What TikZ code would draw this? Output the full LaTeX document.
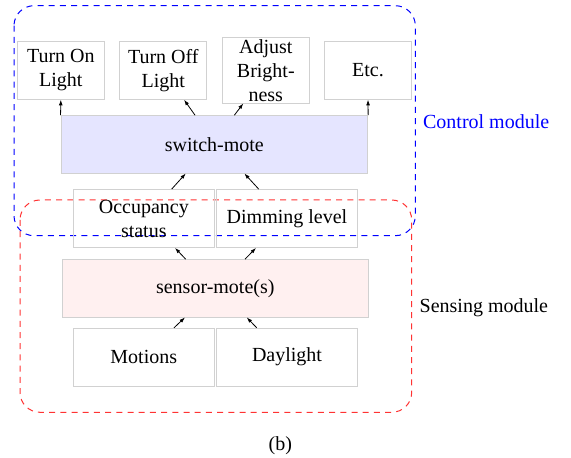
\documentclass[tikz,border=0pt]{standalone}
\usepackage{fontspec}
\setmainfont{Liberation Serif}
\usetikzlibrary{calc,arrows.meta}
\begin{document}
\begin{tikzpicture}[x=0.5pt,y=-0.5pt,
  box/.style={draw=black!18, line width=0.4pt, align=center, inner sep=1pt, font=\fontsize{10}{12}\selectfont},
  topbox/.style={box, minimum width=43.5pt, minimum height=28.8pt},
  midbox/.style={box, minimum width=70.5pt, minimum height=29pt},
  motebox/.style={box, minimum width=153.4pt, minimum height=28.7pt},
  modline/.style={line width=0.5pt, dash pattern=on 3pt off 2.6pt, rounded corners=10pt},
  arr/.style={-{Latex[length=2.8pt,width=1.9pt]}, line width=0.4pt},
  lbl/.style={inner sep=0pt, font=\fontsize{10}{12}\selectfont}]
\useasboundingbox (0,0) rectangle (571,458);

% modules
\draw[modline, blue] (14,5.7) rectangle (415.3,235.7);
\draw[modline, red!80] (20,200) rectangle (411.7,412.3);

% top row
\node[topbox] (on) at (60.85,70.5) {Turn On\\Light};
\node[topbox] (off) at (163.35,70.5) {Turn Off\\Light};
\node[topbox, minimum height=32.65pt, inner ysep=0.3pt] (adj) at (265.8,70.35) {Adjust\\Bright-\\ness};
\node[topbox] (etc) at (368,70.5) {Etc.};

% switch-mote
\node[motebox, fill=blue!10] (switch) at (214.35,144.35) {switch-mote};

% middle row
\node[midbox] (occ) at (143.8,218.5) {Occupancy\\status};
\node[midbox] (dim) at (287,218.5) {Dimming level};

% sensor-mote
\node[motebox, fill=red!6] (sensor) at (215.3,288.3) {sensor-mote(s)};

% bottom row
\node[midbox] (mot) at (143.8,357.2) {Motions};
\node[midbox] (day) at (287,357.2) {Daylight};

% arrows
\draw[arr] (switch.north west) -- (on.south);
\draw[arr] (switch.north east) -- (etc.south);
\draw[arr] ($(switch.north)+(-19.3,0)$) -- ($(off.south)+(20.7,0)$);
\draw[arr] ($(switch.north)+(20,0)$) -- ($(adj.south)+(-22.5,0)$);
\draw[arr] ($(occ.north)+(27.9,0)$) -- ($(switch.south)+(-28.6,0)$);
\draw[arr] ($(dim.north)+(-28.3,0)$) -- ($(switch.south)+(30,0)$);
\draw[arr] ($(sensor.north)+(-29.6,0)$) -- ($(occ.south)+(31.2,0)$);
\draw[arr] ($(sensor.north)+(29.7,0)$) -- ($(dim.south)+(-31,0)$);
\draw[arr] ($(mot.north)+(30.2,0)$) -- ($(sensor.south)+(-30.3,0)$);
\draw[arr] ($(day.north)+(-30.3,0)$) -- ($(sensor.south)+(31.4,0)$);

% labels
\node[lbl, anchor=base west, text=blue] (cm) at (422.7,128.3) {Control module};
\node[lbl, anchor=base west] (sm) at (419.3,312.3) {Sensing module};
\node[lbl, anchor=base] (cap) at (280.3,450.4) {(b)};
\end{tikzpicture}
\end{document}
